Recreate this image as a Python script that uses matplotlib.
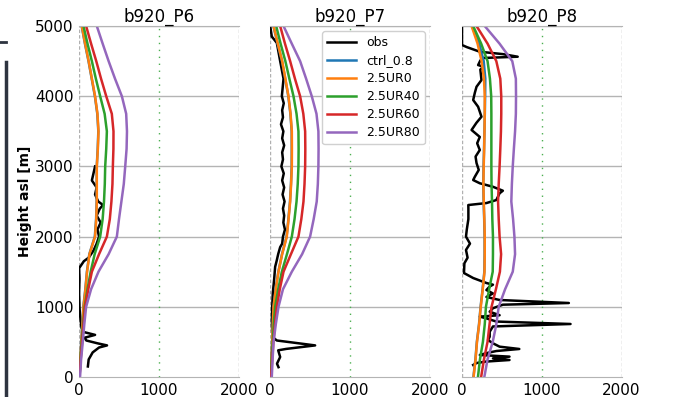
import numpy as np
import matplotlib
matplotlib.use("Agg")
import matplotlib.pyplot as plt
from matplotlib.lines import Line2D

titles = ["b920_P6", "b920_P7", "b920_P8"]
labels = ["obs", "ctrl_0.8", "2.5UR0", "2.5UR40", "2.5UR60", "2.5UR80"]
colors = ["black", "#1f77b4", "#ff7f0e", "#2ca02c", "#d62728", "#9467bd"]

# model height levels [m]
z = np.arange(0, 5001, 250)

# ---- b920_P6 ----
p6_ctrl = [4, 14, 27, 40, 53, 78, 98, 128, 197, 213, 220, 221, 221, 233, 241, 228, 198, 158, 118, 73, 32]
p6_ur0 = [5, 15, 28, 42, 55, 80, 100, 130, 200, 215, 222, 222, 222, 235, 243, 230, 200, 160, 120, 75, 34]
p6_ur40 = [5, 18, 32, 50, 70, 105, 145, 195, 264, 295, 312, 322, 327, 340, 348, 320, 264, 210, 160, 105, 55]
p6_ur60 = [5, 20, 38, 55, 75, 115, 160, 250, 348, 385, 405, 418, 423, 430, 431, 410, 340, 275, 215, 150, 88]
p6_ur80 = [12, 25, 46, 65, 88, 150, 243, 370, 473, 500, 530, 560, 578, 595, 600, 590, 536, 450, 370, 295, 222]
p6_obs_z = [150, 250, 350, 420, 450, 480, 520, 560, 600, 640, 700, 800, 900, 1000, 1200, 1400, 1550,
            1650, 1700, 1800, 1900, 2000, 2100, 2200, 2300, 2400, 2450, 2500, 2600, 2700, 2800, 2900, 3000]
p6_obs = [110, 120, 170, 250, 350, 230, 90, 70, 200, 60, 30, 20, 10, 5, 0, 5, 0,
          60, 120, 180, 220, 250, 230, 270, 220, 260, 300, 240, 200, 220, 160, 180, 200]

# ---- b920_P7 ----
p7_ctrl = [4, 14, 24, 32, 41, 68, 102, 148, 205, 228, 248, 260, 269, 270, 269, 253, 227, 188, 148, 93, 40]
p7_ur0 = [5, 15, 25, 33, 42, 70, 104, 150, 208, 230, 250, 262, 271, 272, 271, 255, 229, 190, 150, 95, 42]
p7_ur40 = [5, 18, 32, 45, 62, 100, 146, 210, 271, 305, 330, 345, 354, 356, 354, 330, 292, 240, 190, 130, 75]
p7_ur60 = [10, 25, 40, 60, 83, 120, 167, 260, 354, 390, 417, 430, 438, 440, 438, 415, 375, 310, 250, 185, 125]
p7_ur80 = [20, 30, 42, 70, 104, 160, 271, 400, 500, 545, 583, 597, 604, 606, 604, 580, 521, 450, 375, 270, 167]
p7_obs_z = [140, 190, 285, 380, 400, 450, 520, 560, 650, 800, 1000, 1200, 1400, 1570, 1650, 1750, 1850,
            1900, 2000, 2100, 2200, 2300, 2400, 2500, 2600, 2700, 2800, 2900, 3000, 3100, 3200, 3300,
            3400, 3500, 3600, 3700, 3800, 3900, 4000, 4250, 4500, 4760, 4850, 5000]
p7_obs = [104, 85, 125, 100, 200, 563, 83, 40, 25, 21, 25, 33, 50, 62, 80, 100, 125,
          150, 160, 185, 165, 175, 160, 180, 155, 175, 150, 170, 140, 160, 150, 175,
          150, 165, 135, 160, 150, 170, 146, 167, 125, 83, 20, 0]

# ---- b920_P8 ----
p8_ctrl = [143, 168, 186, 213, 233, 258, 280, 283, 283, 278, 271, 266, 270, 276, 281, 286, 290, 292, 272, 215, 125]
p8_ur0 = [145, 170, 188, 215, 235, 260, 282, 285, 285, 280, 273, 268, 272, 278, 282, 285, 285, 275, 245, 195, 120]
p8_ur40 = [200, 225, 262, 285, 300, 340, 385, 388, 388, 380, 376, 370, 368, 368, 368, 368, 366, 350, 320, 240, 140]
p8_ur60 = [240, 275, 320, 345, 370, 425, 475, 490, 471, 460, 452, 460, 471, 480, 488, 492, 492, 480, 430, 320, 182]
p8_ur80 = [280, 320, 385, 430, 460, 540, 636, 665, 657, 640, 618, 625, 636, 650, 665, 675, 677, 675, 630, 470, 285]
p8_obs_z = [171, 199, 220, 242, 265, 290, 313, 340, 370, 399, 432, 480, 527, 574, 645, 720, 755, 790, 835,
            860, 880, 930, 980, 1030, 1054, 1097, 1140, 1190, 1239, 1290, 1315, 1339, 1410, 1481, 1620,
            1700, 1810, 1900, 2000, 2100, 2250, 2400, 2450, 2478, 2521, 2617, 2654, 2710, 2760, 2806,
            2853, 2950, 3048, 3140, 3234, 3330, 3420, 3519, 3620, 3708, 3850, 3946, 4050, 4135, 4231,
            4380, 4420, 4444, 4510, 4545, 4563, 4600, 4634, 4700, 4730, 5000]
p8_obs = [140, 182, 306, 595, 388, 595, 223, 306, 430, 718, 471, 388, 326, 347, 347, 388, 1360, 430, 306,
          223, 471, 347, 388, 512, 1339, 471, 306, 388, 306, 347, 388, 306, 140, 25, 30,
          70, 50, 100, 50, 60, 80, 80, 79, 306, 430, 471, 512, 388, 223, 140,
          161, 210, 182, 170, 223, 190, 223, 120, 180, 244, 202, 140, 161, 182, 244,
          230, 270, 202, 230, 264, 698, 512, 223, 60, 0, 0]

panels = [
    (p6_obs_z, p6_obs, [p6_ctrl, p6_ur0, p6_ur40, p6_ur60, p6_ur80]),
    (p7_obs_z, p7_obs, [p7_ctrl, p7_ur0, p7_ur40, p7_ur60, p7_ur80]),
    (p8_obs_z, p8_obs, [p8_ctrl, p8_ur0, p8_ur40, p8_ur60, p8_ur80]),
]

fig = plt.figure(figsize=(7.0, 3.97), dpi=100)
lefts = [0.113, 0.386, 0.660]
axes = []
for i, (oz, ob, models) in enumerate(panels):
    ax = fig.add_axes([lefts[i], 0.0504, 0.228, 0.884])
    axes.append(ax)
    for yv in [1000, 2000, 3000, 4000, 5000]:
        ax.axhline(yv, color="#b4b4b4", lw=1.0, zorder=0)
    ax.axvline(0, color="#b0b0b0", lw=1.0, ls=(0, (2.5, 1.5)), zorder=0)
    ax.axvline(2000, color="#b0b0b0", lw=1.0, ls=(0, (2.5, 1.5)), zorder=0)
    ax.axvline(1000, color="#4caf50", lw=1.0, ls=(0, (1, 4)), zorder=0)
    ax.plot(ob, oz, color=colors[0], lw=1.8, label=labels[0])
    for m, c, lab in zip(models, colors[1:], labels[1:]):
        ax.plot(m, z, color=c, lw=1.8, label=lab)
    ax.set_xlim(0, 2000)
    ax.set_ylim(0, 5000)
    ax.set_xticks([0, 1000, 2000])
    ax.set_yticks([0, 1000, 2000, 3000, 4000, 5000])
    ax.tick_params(length=0, pad=4, labelsize=11)
    ax.spines["left"].set_visible(False)
    ax.spines["right"].set_visible(False)
    ax.spines["top"].set_color("#b4b4b4")
    ax.spines["bottom"].set_color("#b4b4b4")
    ax.set_title(titles[i], fontsize=12, pad=2)
    if i > 0:
        ax.set_yticklabels([])

axes[0].set_ylabel("Height asl [m]", fontsize=10, fontweight="bold", labelpad=2)
axes[1].legend(loc="upper right", fontsize=9, handlelength=2.3, borderaxespad=0.4,
               labelspacing=0.4, framealpha=1, edgecolor="#d0d0d0")

# slide decorations at left edge
fig.add_artist(Line2D([0.0, 0.009], [0.894, 0.894], color="#2e3440", lw=2))
fig.add_artist(Line2D([0.008, 0.008], [0.0, 0.845], color="#2e3440", lw=2.5))

fig.savefig("out.png", dpi=100)
